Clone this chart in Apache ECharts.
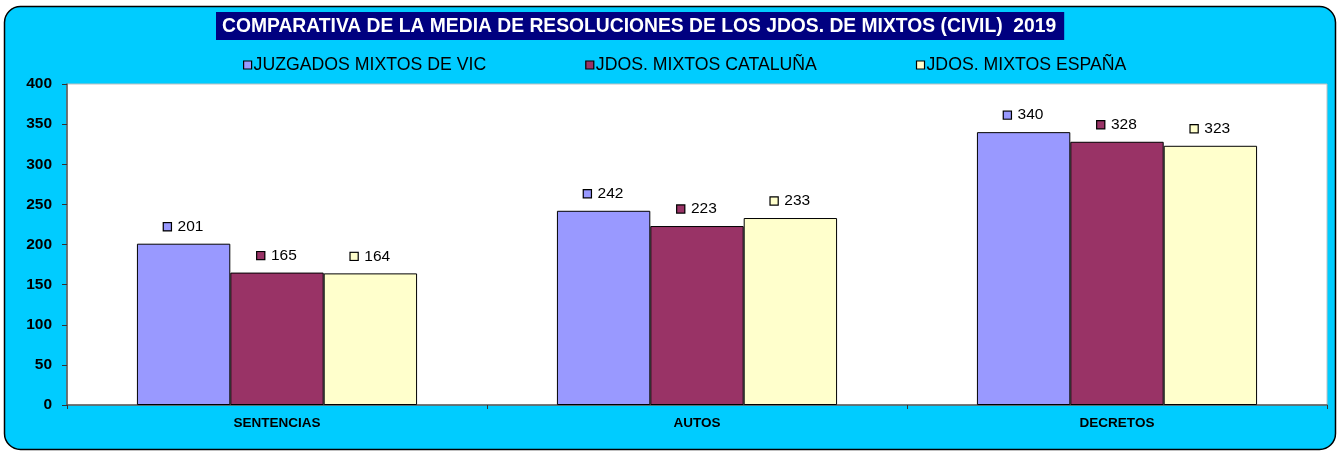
<!DOCTYPE html>
<html>
<head>
<meta charset="utf-8">
<script src="https://cdn.jsdelivr.net/npm/echarts@6/dist/echarts.min.js"></script>
<style>
  html, body { margin: 0; padding: 0; background: #ffffff; }
  #chart { width: 1338px; height: 452px; }
</style>
</head>
<body>
<div id="chart"></div>
<script>
// Categories and series values
const categories = ['SENTENCIAS', 'AUTOS', 'DECRETOS'];
const seriesNames = ['JUZGADOS MIXTOS DE VIC', 'JDOS. MIXTOS CATALUÑA', 'JDOS. MIXTOS ESPAÑA'];
const vicValues = [201, 242, 340];
const catalunyaValues = [165, 223, 328];
const espanaValues = [164, 233, 323];
const seriesColors = ['#9999FF', '#993366', '#FFFFCC'];
const yTicks = { min: 0, max: 400, interval: 50 };

const FONT = 'Arial, "Liberation Sans", sans-serif';

function barSeries(name, values, color) {
  return {
    name: name,
    type: 'bar',
    data: values,
    barGap: '0%',
    barCategoryGap: '33.3%',
    itemStyle: { color: color, borderColor: '#000000', borderWidth: 1 },
    label: {
      show: true,
      position: 'top',
      distance: 9,
      formatter: function (p) { return '{sq|}  {v|' + p.value + '}'; },
      rich: {
        sq: {
          width: 7, height: 7,
          backgroundColor: color,
          borderColor: '#000000', borderWidth: 1.2
        },
        v: { fontFamily: FONT, fontSize: 15.5, color: '#000000' }
      }
    }
  };
}

const chart = echarts.init(document.getElementById('chart'), null, { renderer: 'canvas' });

chart.setOption({
  animation: false,
  backgroundColor: '#ffffff',
  graphic: [{
    type: 'rect',
    z: -10,
    silent: true,
    shape: { x: 4.5, y: 6.5, width: 1331, height: 443, r: 16 },
    style: { fill: '#00CCFF', stroke: '#000000', lineWidth: 1.5 }
  }],
  title: {
    text: 'COMPARATIVA DE LA MEDIA DE RESOLUCIONES DE LOS JDOS. DE MIXTOS (CIVIL)  2019',
    left: 216,
    top: 12,
    padding: [5, 8, 4, 6],
    backgroundColor: '#000080',
    textStyle: { color: '#ffffff', fontFamily: FONT, fontSize: 19.3, fontWeight: 'bold' }
  },
  legend: {
    left: 238,
    top: 51,
    itemWidth: 8,
    itemHeight: 8,
    itemGap: 99,
    icon: 'rect',
    itemStyle: { borderColor: '#000000', borderWidth: 1.2 },
    textStyle: { fontFamily: FONT, fontSize: 17.7, color: '#000000', padding: [0, 0, 0, -3] },
    data: seriesNames
  },
  grid: {
    left: 67, right: 11, top: 84, bottom: 47,
    show: true,
    backgroundColor: '#ffffff',
    borderColor: '#c0c0c0',
    borderWidth: 1
  },
  xAxis: {
    type: 'category',
    data: categories,
    axisLine: { lineStyle: { color: '#555555', width: 1.5 } },
    axisTick: { show: true, length: 4, inside: false, lineStyle: { color: '#333333' } },
    axisLabel: { margin: 11, fontFamily: FONT, fontSize: 13.5, fontWeight: 'bold', color: '#000000' }
  },
  yAxis: {
    type: 'value',
    min: yTicks.min,
    max: yTicks.max,
    interval: yTicks.interval,
    splitLine: { show: false },
    axisLine: { show: true, lineStyle: { color: '#555555', width: 1.5 } },
    axisTick: { show: true, length: 5, lineStyle: { color: '#333333' } },
    axisLabel: { margin: 15, fontFamily: FONT, fontSize: 15.5, fontWeight: 'bold', color: '#000000' }
  },
  series: [
    barSeries(seriesNames[0], vicValues, seriesColors[0]),
    barSeries(seriesNames[1], catalunyaValues, seriesColors[1]),
    barSeries(seriesNames[2], espanaValues, seriesColors[2])
  ]
});
</script>
</body>
</html>
